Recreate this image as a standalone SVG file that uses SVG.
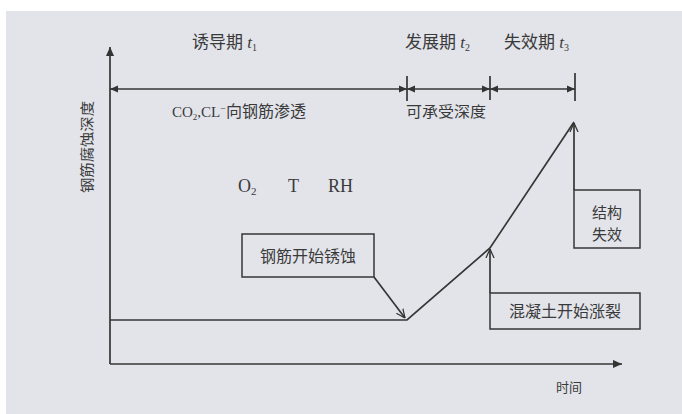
<svg xmlns="http://www.w3.org/2000/svg" width="682" height="414" viewBox="0 0 682 414">
<style>
.t{font-family:"Liberation Serif","Noto Sans CJK SC",serif;fill:#3a3a3a}
.ln{stroke:#363636;stroke-width:1.7;fill:none}
.bx{stroke:#363636;stroke-width:1.5;fill:none}
</style>
<defs>
<marker id="fa" viewBox="0 0 10 10" refX="10" refY="5" markerWidth="10" markerHeight="8" markerUnits="userSpaceOnUse" orient="auto-start-reverse"><path d="M0,0.5 L10,5 L0,9.5 z" fill="#333"/></marker>
<marker id="ax" viewBox="0 0 10 10" refX="10" refY="5" markerWidth="12" markerHeight="9" markerUnits="userSpaceOnUse" orient="auto"><path d="M0,0.5 L10,5 L0,9.5 z" fill="#333"/></marker>
<marker id="oa" viewBox="0 0 10 10" refX="10" refY="5" markerWidth="9" markerHeight="10" markerUnits="userSpaceOnUse" orient="auto"><path d="M0,0.5 L10,5 L0,9.5" fill="none" stroke="#333" stroke-width="1.4"/></marker>
</defs>
<rect x="0" y="0" width="682" height="414" fill="#ffffff"/>
<rect x="6" y="11" width="676" height="403" fill="#e2e4ea"/>

<g id="titles">
<text class="t" x="192" y="48" font-size="17">诱导期 <tspan font-style="italic">t</tspan><tspan font-size="10" dy="3">1</tspan></text>
<text class="t" x="405" y="48" font-size="17">发展期 <tspan font-style="italic">t</tspan><tspan font-size="10" dy="3">2</tspan></text>
<text class="t" x="504" y="48" font-size="17">失效期 <tspan font-style="italic">t</tspan><tspan font-size="10" dy="3">3</tspan></text>
</g>

<g id="connectors">
<path class="ln" d="M110,364 L110,47" marker-end="url(#ax)"/>
<path class="ln" d="M110,364 L622,364" marker-end="url(#ax)"/>
<path class="ln" d="M110,89 L407,89" marker-start="url(#fa)" marker-end="url(#fa)"/>
<path class="ln" d="M407,89 L490,89" marker-start="url(#fa)" marker-end="url(#fa)"/>
<path class="ln" d="M490,89 L575,89" marker-start="url(#fa)" marker-end="url(#fa)"/>
<path class="ln" d="M407,76 L407,101 M490,76 L490,100 M575,73 L575,101"/>
<path class="ln" d="M110,320 L407,320 L490,248 L574,122"/>
<path class="ln" d="M374,277 L405,318" marker-end="url(#oa)"/>
<path class="ln" d="M490,293 L490,249" marker-end="url(#oa)"/>
<path class="ln" d="M574,190 L574,123" marker-end="url(#oa)"/>
</g>

<g id="ylabel">
<text class="t" font-size="14" transform="translate(92,193) rotate(-90)" textLength="92" lengthAdjust="spacingAndGlyphs">钢筋腐蚀深度</text>
</g>
<g id="xlabel">
<text class="t" x="556" y="392" font-size="13">时间</text>
</g>

<g id="labels">
<text class="t" x="172" y="117" font-size="15">CO<tspan font-size="9" dy="3">2</tspan><tspan dy="-3">,CL</tspan><tspan font-size="10" dy="-5">−</tspan><tspan dy="5" font-size="16">向钢筋渗透</tspan></text>
<text class="t" x="406" y="117" font-size="15" textLength="80" lengthAdjust="spacingAndGlyphs">可承受深度</text>
<text class="t" x="238" y="192" font-size="18">O<tspan font-size="11" dy="3">2</tspan></text>
<text class="t" x="288" y="192" font-size="18">T</text>
<text class="t" x="328" y="192" font-size="18">RH</text>
</g>

<g id="node-rust">
<rect class="bx" x="242" y="234" width="132" height="43"/>
<text class="t" x="308" y="262" font-size="16" text-anchor="middle">钢筋开始锈蚀</text>
</g>
<g id="node-crack">
<rect class="bx" x="490" y="293" width="150" height="36"/>
<text class="t" x="565" y="317" font-size="16" text-anchor="middle">混凝土开始涨裂</text>
</g>
<g id="node-fail">
<rect class="bx" x="574" y="190" width="66" height="58"/>
<text class="t" x="607" y="218" font-size="15" text-anchor="middle">结构</text>
<text class="t" x="607" y="240" font-size="15" text-anchor="middle">失效</text>
</g>
</svg>
